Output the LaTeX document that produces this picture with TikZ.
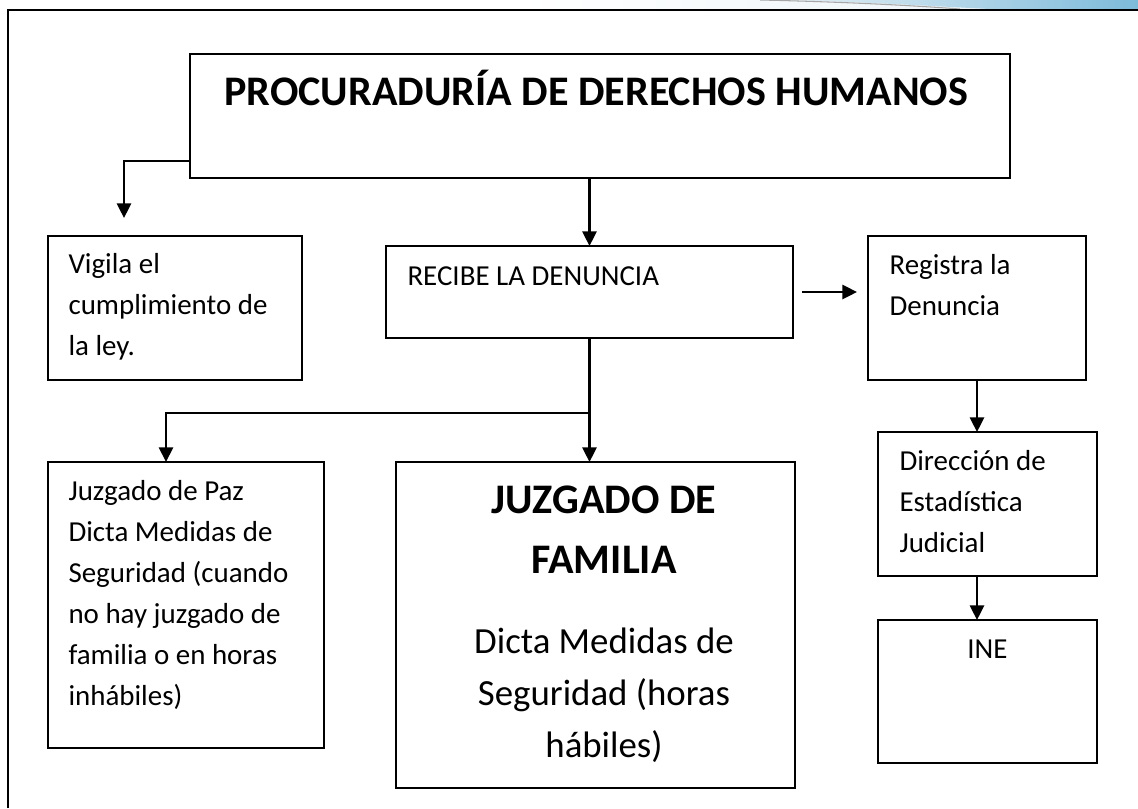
\documentclass[tikz,border=0pt]{standalone}
\usepackage{fontspec}
\setmainfont{Carlito}
\usetikzlibrary{arrows.meta}
\newlength\upx
\setlength\upx{0.38pt}
\definecolor{cieloclaro}{HTML}{E6F0F6}
\definecolor{cielo}{HTML}{7DBBDA}
\begin{document}
\begin{tikzpicture}[x=1\upx, y=-1\upx, line join=miter,
	caja/.style={draw, line width=0.75pt, anchor=north west, inner sep=0pt, outer sep=0pt},
	texto/.style={anchor=north west, align=left, inner sep=0pt, font=\fontsize{11}{15.6}\selectfont},
	flecha/.style={-{Triangle[length=5.6pt, width=5.4pt]}, line width=1pt}]
	\useasboundingbox (0,0) rectangle (1138,808);
	% Marco de la hoja
	\shade[left color=white, right color=cieloclaro] (520,0) rectangle (1138,9);
	\shade[left color=cieloclaro, right color=cielo] (780,0) .. controls (870,2) and (930,6) .. (990,9) -- (1138,9) -- (1138,0) -- cycle;
	\draw[gray!70, line width=0.4pt] (760,0) .. controls (850,2) and (920,6) .. (960,9);
	\draw[line width=1pt] (8,808) -- (8,10) -- (1138,10);
	
	% Cajas
	\node[caja, minimum width=820\upx, minimum height=124\upx] (pdh) at (190,54) {};
	\node[caja, minimum width=254\upx, minimum height=144\upx] (vigila) at (48,236) {};
	\node[caja, minimum width=407\upx, minimum height=92\upx] (recibe) at (386,246) {};
	\node[caja, minimum width=218\upx, minimum height=144\upx] (registra) at (868,236) {};
	\node[caja, minimum width=219\upx, minimum height=144\upx] (direccion) at (878,432) {};
	\node[caja, minimum width=219\upx, minimum height=143\upx] (ine) at (878,620) {};
	\node[caja, minimum width=276\upx, minimum height=286\upx] (paz) at (48,462) {};
	\node[caja, minimum width=399\upx, minimum height=326\upx] (familia) at (396,462) {};
	
	% Textos
	\node[anchor=base west, inner sep=0pt, font=\fontsize{16}{22.8}\selectfont\bfseries] (pdh-t) at (224,105) {PROCURADURÍA DE DERECHOS HUMANOS};
	\node[texto] (vigila-t) at (68,244.3) {\strut Vigila el\\cumplimiento de\\la ley.};
	\node[texto] (recibe-t) at (407,256.3) {\strut RECIBE LA DENUNCIA};
	\node[texto] (registra-t) at (889,245.3) {\strut Registra la\\Denuncia};
	\node[texto] (direccion-t) at (899,441.3) {\strut Dirección de\\Estadística\\Judicial};
	\node[texto, anchor=north] (ine-t) at (987.5,629.3) {\strut INE};
	\node[texto] (paz-t) at (68,471.3) {\strut Juzgado de Paz\\Dicta Medidas de\\Seguridad (cuando\\no hay juzgado de\\familia o en horas\\inhábiles)};
	\node[texto, anchor=north, align=center, font=\fontsize{16}{22.8}\selectfont\bfseries] (familia-t) at (604,471) {\strut JUZGADO DE\\FAMILIA};
	\node[texto, anchor=north, align=center, font=\fontsize{14}{19.8}\selectfont] (familia-d) at (604,616.6) {\strut Dicta Medidas de\\Seguridad (horas\\hábiles)};
	
	% Flechas
	\coordinate (pdh-izq) at (190,161);
	\coordinate (vigila-in) at (124,218);
	\draw[flecha] (pdh-izq) -| (vigila-in);
	\draw[flecha] (recibe.north |- pdh.south) -- (recibe.north);
	\draw[flecha] (recibe.south) -- (recibe.south |- familia.north);
	\coordinate (cruce) at (589.5,413);
	\coordinate (paz-in) at (166,462);
	\draw[flecha, line width=0.8pt] (cruce) -| (paz-in);
	\draw[flecha] ([xshift=9\upx]recibe.east) -- ([xshift=-11\upx]recibe.east -| registra.west);
	\draw[flecha] (registra.south) -- (registra.south |- direccion.north);
	\draw[flecha] (registra.south |- direccion.south) -- (registra.south |- ine.north);
	
\end{tikzpicture}
\end{document}
